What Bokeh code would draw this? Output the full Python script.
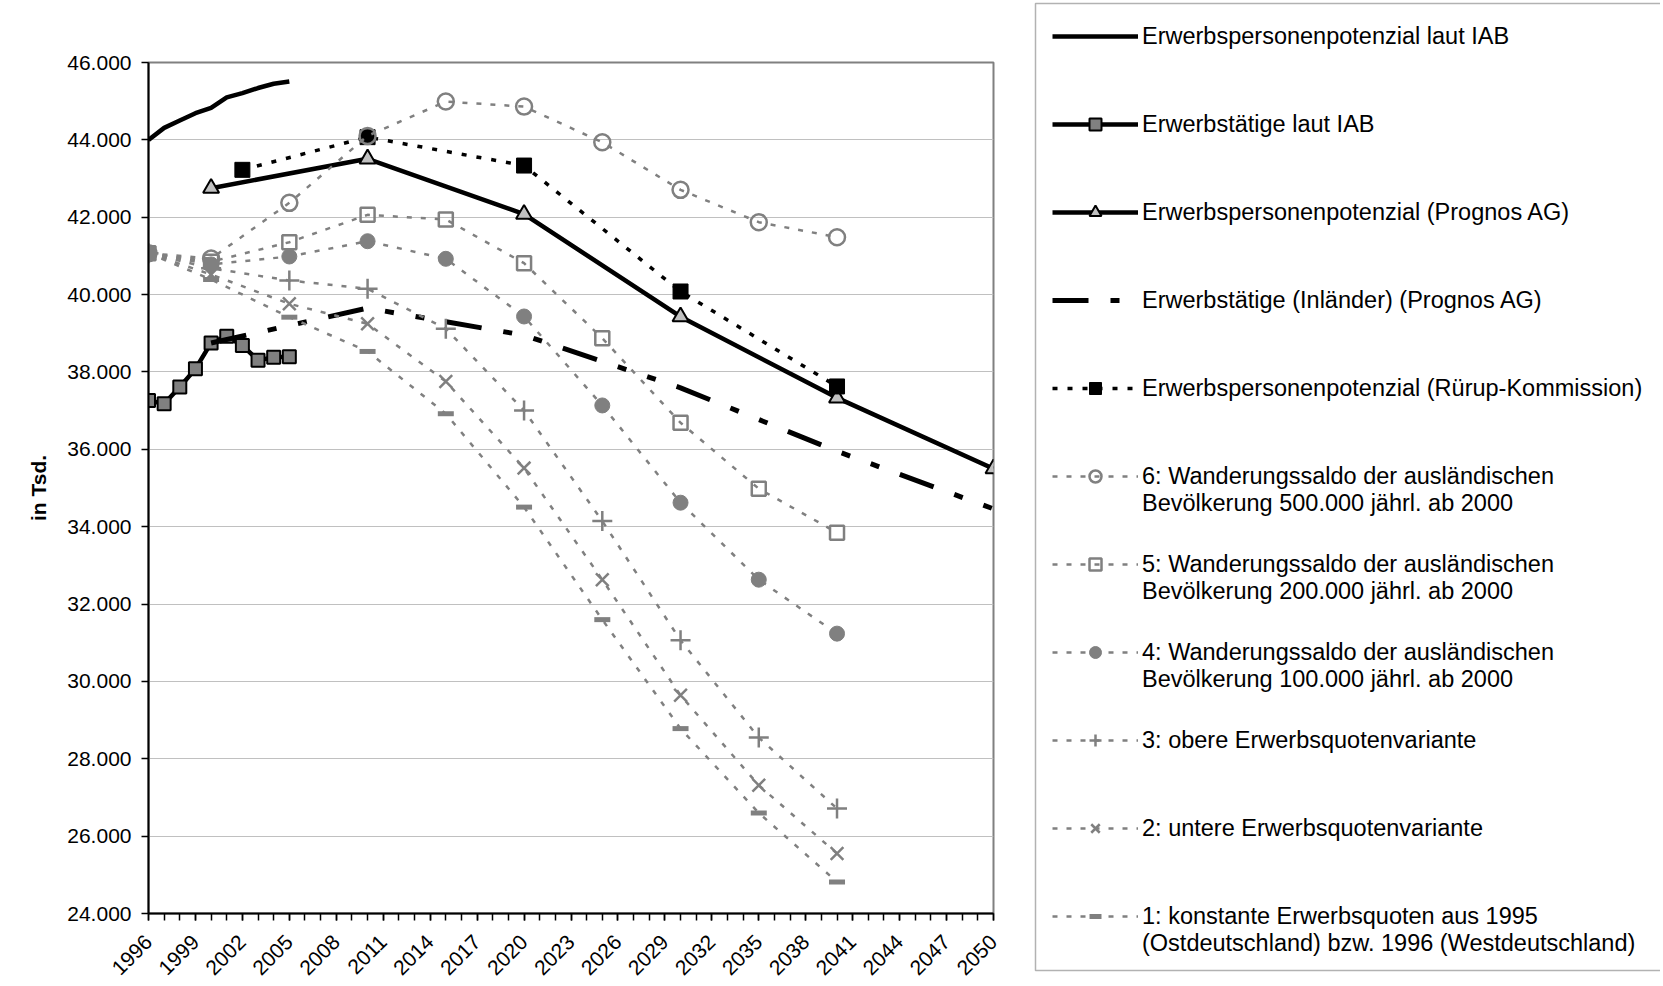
import math
from bokeh.plotting import figure
from bokeh.layouts import row
from bokeh.models import Range1d, FixedTicker, Legend, LegendItem, BoxAnnotation
from bokeh.embed import file_html
from bokeh.resources import INLINE

# ---------------- data ----------------
iab_years = [1996, 1997, 1998, 1999, 2000, 2001, 2002, 2003, 2004, 2005]
iab_potenzial = [44000, 44310, 44500, 44690, 44830, 45100, 45210, 45340, 45450, 45510]
iab_erwerbstaetige = [37264, 37180, 37610, 38080, 38750, 38920, 38685, 38300, 38380, 38390]

prognos_years = [2000, 2010, 2020, 2030, 2040, 2050]
prognos_potenzial = [42750, 43510, 42080, 39430, 37330, 35500]
prognos_erwerbstaetige = [38750, 39650, 38950, 37590, 35950, 34460]

ruerup_years = [2002, 2010, 2020, 2030, 2040]
ruerup_potenzial = [43225, 44070, 43336, 40080, 37625]

scen_years = [1996, 2000, 2005, 2010, 2015, 2020, 2025, 2030, 2035, 2040]
scen6 = [41070, 40930, 42372, 44103, 44990, 44860, 43938, 42708, 41871, 41483]
scen5 = [41070, 40850, 41354, 42062, 41941, 40812, 38873, 36687, 34982, 33845]
scen4 = [41070, 40780, 40985, 41380, 40925, 39434, 37134, 34620, 32630, 31235]
scen3 = [41070, 40680, 40364, 40150, 39116, 37005, 34145, 31062, 28548, 26713]
scen2 = [41070, 40520, 39762, 39245, 37754, 35514, 32630, 29640, 27315, 25550]
scen1 = [41070, 40390, 39416, 38530, 36920, 34506, 31597, 28780, 26600, 24817]

x_ticks = [1996, 1999, 2002, 2005, 2008, 2011, 2014, 2017, 2020, 2023, 2026,
           2029, 2032, 2035, 2038, 2041, 2044, 2047, 2050]
x_tick_labels = ["1996", "1999", "2002", "2005", "2008", "2011", "2014", "2017",
                 "2020", "2023", "2026", "2029", "2032", "2035", "2038", "2041",
                 "2044", "2047", "2050"]
x_minor_ticks = list(range(1996, 2051))
y_ticks = [24000, 26000, 28000, 30000, 32000, 34000, 36000, 38000, 40000, 42000, 44000, 46000]
y_tick_labels = ["24.000", "26.000", "28.000", "30.000", "32.000", "34.000",
                 "36.000", "38.000", "40.000", "42.000", "44.000", "46.000"]

labels = [
    "Erwerbspersonenpotenzial laut IAB",
    "Erwerbstätige laut IAB",
    "Erwerbspersonenpotenzial (Prognos AG)",
    "Erwerbstätige (Inländer) (Prognos AG)",
    "Erwerbspersonenpotenzial (Rürup-Kommission)",
    "\n6: Wanderungssaldo der ausländischen\nBevölkerung 500.000 jährl. ab 2000",
    "\n5: Wanderungssaldo der ausländischen\nBevölkerung 200.000 jährl. ab 2000",
    "\n4: Wanderungssaldo der ausländischen\nBevölkerung 100.000 jährl. ab 2000",
    "3: obere Erwerbsquotenvariante",
    "2: untere Erwerbsquotenvariante",
    "\n1: konstante Erwerbsquoten aus 1995\n(Ostdeutschland) bzw. 1996 (Westdeutschland)",
]

FONT = "Liberation Sans"
GRAY = "#808080"

# series definitions: (x, y, line style, marker style or None)
series = [
    (iab_years, iab_potenzial, dict(line_color="black", line_width=4.5), None),
    (iab_years, iab_erwerbstaetige, dict(line_color="black", line_width=4.5),
     dict(marker="square", size=13, fill_color=GRAY, line_color="black", line_width=2)),
    (prognos_years, prognos_potenzial, dict(line_color="black", line_width=4.5),
     dict(marker="triangle", size=16, fill_color="#C0C0C0", line_color="black", line_width=2)),
    (prognos_years, prognos_erwerbstaetige,
     dict(line_color="black", line_width=5, line_dash="36 22 9 22 9 22"), None),
    (ruerup_years, ruerup_potenzial, dict(line_color="black", line_width=3.5, line_dash="5 10"),
     dict(marker="square", size=15, fill_color="black", line_color="black", line_width=1)),
]
scen_line = dict(line_color=GRAY, line_width=2.5, line_dash="5 9")
series += [
    (scen_years, scen6, scen_line, dict(marker="circle", size=16, fill_color=None, line_color=GRAY, line_width=2.5)),
    (scen_years, scen5, scen_line, dict(marker="square", size=14, fill_color=None, line_color=GRAY, line_width=2.5)),
    (scen_years, scen4, scen_line, dict(marker="circle", size=15, fill_color=GRAY, line_color=GRAY, line_width=1)),
    (scen_years, scen3, scen_line, dict(marker="cross", size=20, line_color=GRAY, line_width=2.5)),
    (scen_years, scen2, scen_line, dict(marker="x", size=18, line_color=GRAY, line_width=2.5)),
    (scen_years, scen1, scen_line, dict(marker="dash", size=16, line_color=GRAY, line_width=5)),
]

# ---------------- chart figure ----------------
W1, H = 1010, 984
FL, FT, FW, FH = 148, 62, 845, 852
p = figure(width=W1, height=H, x_range=Range1d(1996, 2050), y_range=Range1d(24000, 46000),
           output_backend="svg", toolbar_location=None,
           min_border_left=FL, min_border_top=FT,
           min_border_right=W1 - FL - FW, min_border_bottom=H - FT - FH)
p.background_fill_color = "white"
p.border_fill_color = "white"
p.outline_line_color = GRAY
p.outline_line_width = 2

p.xaxis.ticker = FixedTicker(ticks=x_ticks, minor_ticks=x_minor_ticks)
p.xaxis.major_label_overrides = {t: l for t, l in zip(x_ticks, x_tick_labels)}
p.xaxis.major_label_orientation = math.pi / 4
p.xaxis.major_tick_out = 7
p.xaxis.major_tick_in = 0
p.xaxis.minor_tick_out = 7
p.xaxis.minor_tick_in = 0
p.xaxis.major_label_standoff = 18
p.yaxis.ticker = FixedTicker(ticks=y_ticks)
p.yaxis.major_label_overrides = {t: l for t, l in zip(y_ticks, y_tick_labels)}
p.yaxis.major_tick_out = 7
p.yaxis.major_tick_in = 0
p.yaxis.major_label_standoff = 10
p.yaxis.axis_label = "in Tsd."
p.yaxis.axis_label_text_font_style = "bold"
p.yaxis.axis_label_standoff = 14
for ax in (p.xaxis, p.yaxis):
    ax.axis_line_color = "black"
    ax.axis_line_width = 2
    ax.major_tick_line_color = "black"
    ax.minor_tick_line_color = "black"
    ax.major_tick_line_width = 1.5
    ax.minor_tick_line_width = 1.5
    ax.major_label_text_font = FONT
    ax.major_label_text_font_size = "21px"
    ax.major_label_text_color = "black"
    ax.axis_label_text_font = FONT
    ax.axis_label_text_font_size = "21px"
    ax.axis_label_text_color = "black"
p.yaxis.minor_tick_line_color = None

p.xgrid.visible = False
p.ygrid.ticker = FixedTicker(ticks=y_ticks)
p.ygrid.grid_line_color = "#C0C0C0"
p.ygrid.grid_line_width = 1

for xs, ys, lstyle, mstyle in series:
    p.line(xs, ys, **lstyle)
    if mstyle is not None:
        p.scatter(xs, ys, **mstyle)

# ---------------- legend figure ----------------
W2 = 650
q = figure(width=W2, height=H, x_range=Range1d(0, W2), y_range=Range1d(H, 0),
           output_backend="svg", toolbar_location=None, min_border=0,
           x_axis_location=None, y_axis_location=None)
q.frame_align = False
q.grid.visible = False
q.outline_line_color = None
q.background_fill_color = "white"
q.border_fill_color = "white"

items = []
for (xs, ys, lstyle, mstyle), lab in zip(series, labels):
    # legend samples: same styles, data lie outside this panel's ranges
    rs = [q.line(xs, ys, **lstyle)]
    if mstyle is not None:
        rs.append(q.scatter(xs, ys, **mstyle))
    items.append(LegendItem(label=lab, renderers=rs))

q.add_layout(BoxAnnotation(left=25, right=W2 + 40, top=3, bottom=970,
                           fill_alpha=0, line_color="black", line_width=1.5))

ITEM_H = 81
SPACING = 7
leg_h = len(items) * ITEM_H + (len(items) - 1) * SPACING
first_center = 36
leg_top = first_center - ITEM_H / 2
legend = Legend(
    items=items, location=(42, H - (leg_top + leg_h)), orientation="vertical",
    glyph_width=86, glyph_height=30, label_height=ITEM_H, label_width=100,
    label_standoff=4, padding=0, spacing=SPACING, margin=0,
    label_text_font=FONT, label_text_font_size="23.5px", label_text_color="black",
    label_text_line_height=1.13,
    border_line_color=None, background_fill_alpha=0,
)
q.add_layout(legend, "center")

layout = row(p, q)
open("out.html", "w").write(file_html(layout, INLINE))
